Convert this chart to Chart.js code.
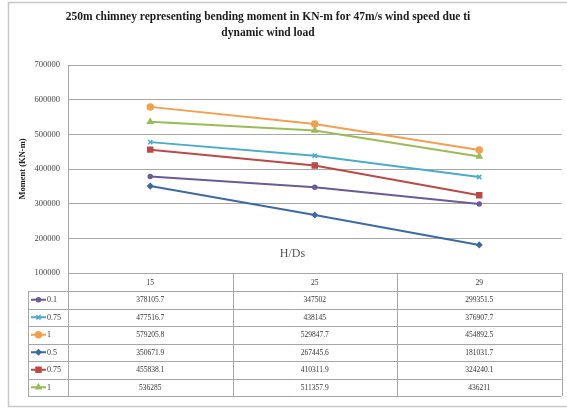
<!DOCTYPE html>
<html>
<head>
<meta charset="utf-8">
<script src="https://cdn.jsdelivr.net/npm/chart.js@4/dist/chart.umd.min.js"></script>
<style>
  html, body { margin: 0; padding: 0; background: #ffffff; }
  #wrap { position: relative; width: 567px; height: 408px; }
</style>
</head>
<body>
<div id="wrap"><canvas id="c" width="567" height="408"></canvas></div>
<script>
// Bending moment of a 250 m chimney, 47 m/s wind, dynamic wind load
const chartTitle = [
  '250m chimney representing bending moment in KN-m for 47m/s wind speed due ti',
  'dynamic wind load'
];
const categories = ['15', '25', '29'];           // H/Ds
const seriesLabels = ['0.1', '0.75', '1', '0.5', '0.75', '1'];

const moment01a  = [378105.7, 347502, 299351.5];
const moment075a = [477516.7, 438145, 376907.7];
const moment1a   = [579205.8, 529847.7, 454892.5];
const moment05b  = [350671.9, 267445.6, 181031.7];
const moment075b = [455838.1, 410311.9, 324240.1];
const moment1b   = [536285, 511357.9, 436211];

const yMin = 100000, yMax = 700000, yStep = 100000;
const xTitle = 'H/Ds';
const yTitle = 'Moment (KN-m)';

const seriesValues = [moment01a, moment075a, moment1a, moment05b, moment075b, moment1b];
const seriesColors = ['#6b5b95', '#4bacc6', '#f0a050', '#3f6aa0', '#b94a48', '#9bbb59'];
const seriesMarkers = ['circle', 'crossRot', 'circle', 'rectRot', 'rect', 'triangle'];
const markerSizes = [2, 3, 3, 2.5, 3.5, 3];

const serif = '"Liberation Serif", "DejaVu Serif", serif';
const gridGrey = '#a6a6a6';

// White card with a thin grey frame
const framePlugin = {
  id: 'frame',
  beforeDraw(chart) {
    const ctx = chart.ctx;
    ctx.save();
    ctx.fillStyle = '#ffffff';
    ctx.fillRect(0, 0, chart.width, chart.height);
    ctx.strokeStyle = '#c8c8c8';
    ctx.lineWidth = 1.5;
    ctx.strokeRect(8.5, 2.5, chart.width - 7, chart.height - 4);
    ctx.restore();
  }
};

// Two-line heading
const headingPlugin = {
  id: 'heading',
  afterDraw(chart) {
    const ctx = chart.ctx;
    ctx.save();
    ctx.fillStyle = '#1a1a1a';
    ctx.font = 'bold 11.5px ' + serif;
    ctx.textAlign = 'center';
    ctx.textBaseline = 'middle';
    const cx = 268;
    chartTitle.forEach((line, i) => ctx.fillText(line, cx, 17 + i * 16));
    ctx.restore();
  }
};

// Category-axis title, which sits just inside the plot
const xTitlePlugin = {
  id: 'xTitle',
  afterDatasetsDraw(chart) {
    const { ctx, chartArea } = chart;
    ctx.save();
    ctx.fillStyle = '#555555';
    ctx.font = '12px ' + serif;
    ctx.textAlign = 'center';
    ctx.textBaseline = 'middle';
    ctx.fillText(xTitle, chartArea.left + (chartArea.right - chartArea.left) * 0.455, chartArea.bottom - 19);
    ctx.restore();
  }
};

// Data table under the plot, columns aligned with the category scale
const tablePlugin = {
  id: 'dataTable',
  afterDraw(chart) {
    const { ctx, chartArea } = chart;
    const xs = chart.scales.x;
    const headerH = 18, rowH = 17.5;
    const top = chartArea.bottom;
    const legendLeft = chartArea.left - 40;
    const bodyTop = top + headerH;
    const bottom = bodyTop + rowH * seriesLabels.length;
    const step = xs.getPixelForValue(1) - xs.getPixelForValue(0);

    ctx.save();
    ctx.strokeStyle = gridGrey;
    ctx.lineWidth = 1;

    // vertical column separators
    ctx.beginPath();
    for (let i = 0; i <= categories.length; i++) {
      const x = Math.round(xs.getPixelForValue(0) - step / 2 + i * step) + 0.5;
      ctx.moveTo(x, top);
      ctx.lineTo(x, bottom);
    }
    ctx.moveTo(legendLeft + 0.5, bodyTop);
    ctx.lineTo(legendLeft + 0.5, bottom);
    // horizontal row lines
    for (let r = 0; r <= seriesLabels.length; r++) {
      const y = Math.round(bodyTop + r * rowH) + 0.5;
      ctx.moveTo(legendLeft, y);
      ctx.lineTo(chartArea.right, y);
    }
    ctx.stroke();

    ctx.textAlign = 'center';
    ctx.textBaseline = 'middle';
    ctx.fillStyle = '#333333';
    ctx.font = '7.5px ' + serif;
    categories.forEach((c, i) => ctx.fillText(c, xs.getPixelForValue(i), top + headerH / 2 + 1));

    seriesLabels.forEach((lab, r) => {
      const cy = bodyTop + r * rowH + rowH / 2;
      // legend key
      const col = seriesColors[r];
      ctx.strokeStyle = col;
      ctx.lineWidth = 2;
      ctx.beginPath();
      ctx.moveTo(legendLeft + 3, cy);
      ctx.lineTo(legendLeft + 18, cy);
      ctx.stroke();
      ctx.fillStyle = col;
      ctx.lineWidth = 1.5;
      Chart.helpers.drawPoint(ctx, { pointStyle: seriesMarkers[r], radius: markerSizes[r], borderWidth: 1.5, rotation: 0 }, legendLeft + 10.5, cy);
      ctx.fillStyle = '#333333';
      ctx.textAlign = 'left';
      ctx.font = '8px ' + serif;
      ctx.fillText(lab, legendLeft + 19, cy + 0.5);
      // values
      ctx.textAlign = 'center';
      ctx.font = '7.5px ' + serif;
      seriesValues[r].forEach((v, i) => ctx.fillText(String(v), xs.getPixelForValue(i), cy + 0.5));
    });
    ctx.restore();
  }
};

const datasets = seriesLabels.map((lab, i) => ({
  label: lab,
  data: seriesValues[i],
  borderColor: seriesColors[i],
  backgroundColor: seriesColors[i],
  borderWidth: 2,
  pointStyle: seriesMarkers[i],
  pointRadius: markerSizes[i],
  pointBorderWidth: 1.5,
  pointBackgroundColor: seriesColors[i],
  pointBorderColor: seriesColors[i],
  tension: 0,
  fill: false
}));

new Chart(document.getElementById('c'), {
  type: 'line',
  data: { labels: categories, datasets },
  plugins: [framePlugin, headingPlugin, xTitlePlugin, tablePlugin],
  options: {
    responsive: false,
    animation: false,
    devicePixelRatio: 1,
    layout: { padding: { left: 8, right: 3, top: 65, bottom: 135 } },
    plugins: {
      legend: { display: false },
      title: { display: false },
      tooltip: { enabled: false }
    },
    scales: {
      x: {
        display: false,
        offset: true
      },
      y: {
        min: yMin,
        max: yMax,
        afterFit(scale) { scale.width = 60; },
        ticks: {
          stepSize: yStep,
          padding: 8,
          color: '#444444',
          font: { family: serif, size: 8.5 },
          callback: v => String(v)
        },
        grid: { color: gridGrey, lineWidth: 1, drawTicks: false },
        border: { display: true, color: gridGrey, width: 1 },
        title: {
          display: true,
          text: yTitle,
          color: '#222222',
          font: { family: serif, size: 8.5, weight: 'bold' },
          padding: { top: 10, bottom: 0 }
        }
      }
    }
  }
});
</script>
</body>
</html>
